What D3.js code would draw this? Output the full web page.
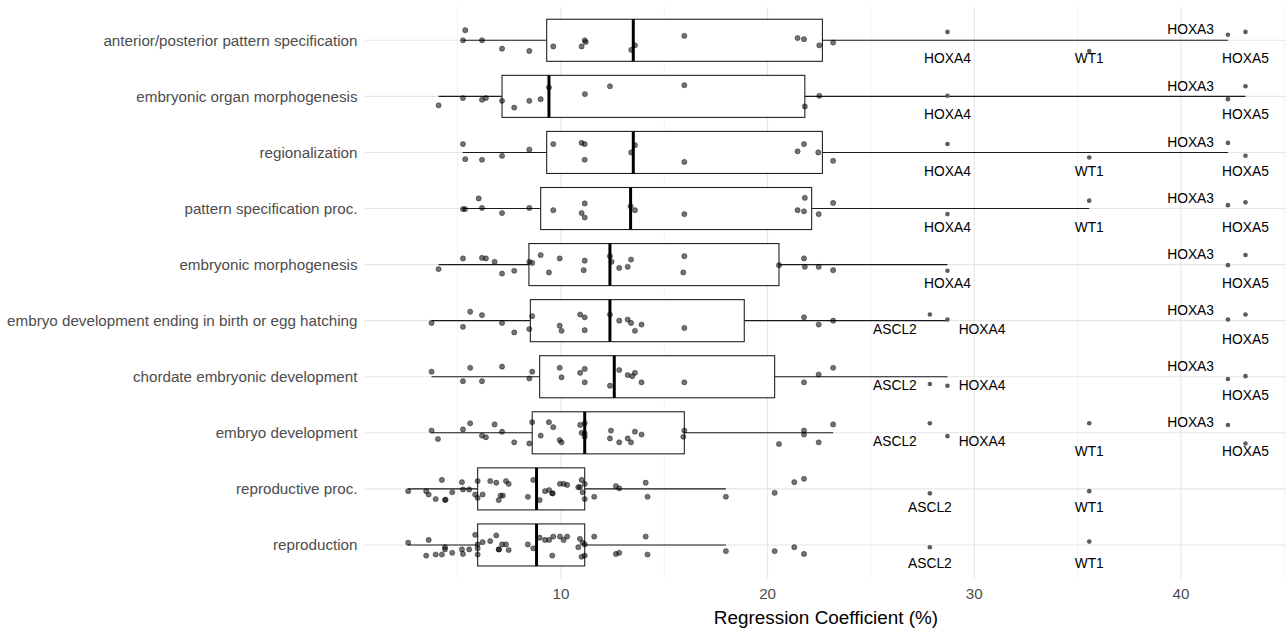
<!DOCTYPE html>
<html>
<head>
<meta charset="utf-8">
<script src="https://cdn.jsdelivr.net/npm/d3@7"></script>
<style>
  html, body { margin: 0; padding: 0; background: #fff; }
  svg { display: block; font-family: "Liberation Sans", Arial, sans-serif; }
</style>
</head>
<body>
<svg id="chart" width="1286" height="631"></svg>
<script>
// ---------------- data ----------------
const categories = [
  "anterior/posterior pattern specification",
  "embryonic organ morphogenesis",
  "regionalization",
  "pattern specification proc.",
  "embryonic morphogenesis",
  "embryo development ending in birth or egg hatching",
  "chordate embryonic development",
  "embryo development",
  "reproductive proc.",
  "reproduction"
];

// box statistics per category (%)
const whiskerLow  = [5.24, 4.08, 5.24, 5.26, 4.08, 3.74, 3.74, 3.74, 2.61, 2.61];
const q1          = [9.31, 7.15, 9.31, 9.02, 8.45, 8.52, 8.97, 8.61, 5.97, 5.97];
const medians     = [13.5, 9.42, 13.5, 13.37, 12.37, 12.37, 12.58, 11.15, 8.82, 8.82];
const q3          = [22.65, 21.8, 22.65, 22.13, 20.55, 18.87, 20.34, 15.97, 11.15, 11.15];
const whiskerHigh = [42.27, 43.12, 42.27, 35.56, 28.7, 28.7, 28.7, 23.17, 17.98, 17.98];

// jittered gene points per category: value (%) and vertical jitter (category units)
const pointValues = [
  [5.37, 5.26, 6.18, 7.15, 8.47, 9.63, 11.0, 11.15, 11.2, 13.4, 13.58, 15.97, 21.45, 21.76, 22.5, 23.17],
  [4.08, 5.26, 6.18, 6.37, 7.15, 7.74, 8.47, 9.02, 9.42, 11.16, 12.37, 15.97, 21.8, 22.5],
  [5.26, 5.37, 6.18, 7.15, 8.47, 9.63, 11.0, 11.15, 11.15, 13.4, 13.58, 15.97, 21.45, 21.76, 22.45, 23.17],
  [5.26, 5.36, 6.02, 6.18, 7.15, 8.47, 9.63, 11.0, 11.15, 11.15, 13.37, 13.58, 15.97, 21.45, 21.76, 21.8, 22.47, 23.17],
  [4.08, 5.26, 6.18, 6.37, 6.79, 7.15, 7.74, 8.47, 8.61, 9.02, 9.42, 9.94, 11.15, 11.1, 12.37, 12.45, 12.82, 13.23, 13.39, 15.97, 15.92, 20.55, 21.76, 21.8, 22.47, 23.17],
  [3.74, 5.26, 5.61, 6.18, 7.15, 7.74, 8.47, 8.61, 9.94, 10.03, 10.93, 11.15, 11.15, 12.37, 12.82, 13.23, 13.39, 13.58, 13.9, 15.97, 21.76, 22.47, 23.17],
  [3.74, 5.26, 5.61, 6.18, 7.15, 8.47, 8.61, 9.94, 10.03, 10.93, 11.15, 11.15, 12.37, 12.82, 13.23, 13.45, 13.58, 13.9, 15.97, 21.76, 22.47, 23.17],
  [3.74, 4.05, 5.26, 5.61, 6.18, 6.37, 6.79, 7.15, 7.74, 8.47, 8.61, 9.02, 9.42, 9.63, 9.94, 10.03, 10.93, 11.0, 11.15, 11.15, 11.15, 12.37, 12.42, 12.82, 13.23, 13.39, 13.58, 13.9, 15.97, 15.92, 20.55, 21.76, 21.76, 22.47, 23.17],
  [2.61, 3.48, 3.6, 3.94, 4.24, 4.39, 4.42, 4.74, 5.21, 5.26, 5.56, 5.85, 5.97, 5.97, 6.21, 6.58, 6.87, 6.99, 7.08, 7.19, 7.34, 7.47, 8.4, 8.66, 8.97, 9.23, 9.43, 9.58, 9.6, 9.95, 10.13, 10.3, 10.84, 10.92, 11.0, 11.05, 11.15, 11.15, 11.61, 12.66, 12.82, 14.1, 14.19, 17.98, 20.34, 21.29, 21.76],
  [2.61, 3.48, 3.6, 3.94, 4.24, 4.39, 4.39, 4.74, 5.21, 5.26, 5.56, 5.85, 5.97, 5.97, 5.97, 6.21, 6.58, 6.87, 6.99, 7.0, 7.15, 7.34, 7.47, 8.4, 8.66, 8.97, 9.23, 9.43, 9.58, 9.63, 9.95, 10.13, 10.3, 10.84, 10.92, 11.0, 11.05, 11.15, 11.15, 11.61, 12.66, 12.82, 14.1, 14.19, 17.98, 20.34, 21.29, 21.76]
];
const pointJitter = [
  [-0.18, 0, 0, 0.15, 0.19, 0.11, 0.11, 0, 0.03, 0.17, 0.09, -0.08, -0.04, -0.02, 0.09, 0.04],
  [0.16, 0.03, 0.06, 0.03, 0.08, 0.2, 0.08, 0.05, -0.16, -0.04, -0.18, -0.2, 0.18, -0.01],
  [-0.15, 0.12, 0.13, 0.06, -0.05, -0.15, -0.17, -0.15, 0.13, 0, -0.13, 0.17, -0.02, -0.15, 0, 0.15],
  [0.01, 0.01, -0.18, -0.01, 0.08, -0.01, 0.03, 0.08, -0.09, 0.16, -0.04, 0.03, 0.1, 0.03, 0.05, -0.19, 0.1, -0.1],
  [0.08, -0.11, -0.12, -0.11, -0.05, 0.16, 0.11, -0.05, -0.03, -0.17, 0.14, -0.11, -0.07, 0.1, -0.15, -0.05, 0.06, 0.04, -0.09, -0.15, 0.14, 0.01, -0.11, 0.04, 0.04, 0.1],
  [0.04, 0.11, -0.16, -0.1, 0.04, 0.21, 0.15, -0.08, 0.09, 0.18, -0.11, -0.06, 0.17, -0.11, 0, -0.02, 0.04, 0.18, 0.07, 0.13, -0.06, 0.07, 0],
  [-0.09, 0.08, -0.16, 0.08, -0.18, 0.03, -0.09, -0.16, 0.01, -0.07, -0.14, 0.1, 0.16, -0.12, -0.03, -0.01, -0.07, 0.1, 0.1, 0.1, -0.04, -0.16],
  [-0.04, 0.11, -0.06, -0.17, 0.05, 0.08, -0.15, -0.02, 0.17, 0.19, -0.19, 0.05, -0.19, -0.1, 0.13, 0.17, -0.14, 0, -0.17, 0.01, 0.07, 0.1, -0.04, 0.17, 0.1, 0.17, -0.02, 0.03, -0.04, 0.07, 0.2, -0.04, 0.03, 0.17, -0.15],
  [0.04, 0.04, 0.1, 0.18, -0.16, 0.2, 0.19, 0.06, -0.12, 0.01, 0.01, 0.1, -0.14, 0.16, 0.1, -0.14, -0.11, 0.2, 0.12, 0.12, -0.14, -0.09, 0.14, -0.16, 0.2, 0.04, 0.02, 0.08, 0.08, -0.09, -0.09, -0.07, -0.03, -0.03, -0.16, 0.06, -0.09, 0.18, 0.14, -0.05, -0.01, -0.11, 0.14, 0.14, 0.07, -0.12, -0.18],
  [-0.04, 0.19, -0.09, 0.17, 0.17, 0.04, 0.08, 0.14, 0.08, 0.16, 0.08, -0.18, -0.01, 0.06, 0.17, -0.05, -0.07, -0.17, 0.08, 0.08, -0.01, -0.01, 0.09, -0.01, 0.06, -0.13, -0.09, -0.09, 0.19, -0.15, -0.15, -0.09, -0.15, 0.04, -0.11, 0.21, -0.04, -0.01, 0.19, -0.15, 0.16, 0.14, -0.15, 0.17, 0.11, 0.11, 0.04, 0.16]
];

// labelled genes: coefficient (%) and which category rows they appear in
const geneNames = ["ASCL2", "HOXA4", "WT1", "HOXA3", "HOXA5"];
const geneCoef  = [27.85, 28.7, 35.56, 42.27, 43.12];
const labeledGenes = [
  ["HOXA4", "WT1", "HOXA3", "HOXA5"],
  ["HOXA4", "HOXA3", "HOXA5"],
  ["HOXA4", "WT1", "HOXA3", "HOXA5"],
  ["HOXA4", "WT1", "HOXA3", "HOXA5"],
  ["HOXA4", "HOXA3", "HOXA5"],
  ["ASCL2", "HOXA4", "HOXA3", "HOXA5"],
  ["ASCL2", "HOXA4", "HOXA3", "HOXA5"],
  ["ASCL2", "HOXA4", "WT1", "HOXA3", "HOXA5"],
  ["ASCL2", "WT1"],
  ["ASCL2", "WT1"]
];
const labeledJitter = [
  [-0.15, 0.19, -0.1, -0.15],
  [-0.01, 0.05, -0.18],
  [-0.15, 0.09, -0.17, 0.06],
  [0.1, -0.14, -0.06, -0.11],
  [0.11, 0.01, -0.17],
  [-0.11, -0.02, -0.02, -0.11],
  [0.13, 0.16, 0.04, -0.01],
  [-0.17, 0.06, -0.17, -0.14, 0.19],
  [0.08, 0.04],
  [0.04, -0.06]
];

const xTicks = [10, 20, 30, 40];
const xMinorTicks = [5, 15, 25, 35, 45];
const xTitle = "Regression Coefficient (%)";

// ---------------- drawing ----------------
const W = 1286, H = 631;
const panel = { left: 365, right: 1286, top: 6.65, bottom: 578.6 };
const svg = d3.select("#chart");

const x = d3.scaleLinear().domain([0.52, 45.08]).range([panel.left, panel.right]);
const y = d3.scalePoint().domain(categories).range([panel.top, panel.bottom]).padding(0.6);
const step = y.step();

const g = svg.append("g");

// grid
g.append("g").selectAll("line").data(xMinorTicks.filter(t => x(t) <= panel.right)).join("line")
  .attr("x1", d => x(d)).attr("x2", d => x(d))
  .attr("y1", panel.top).attr("y2", panel.bottom)
  .attr("stroke", "#ececec").attr("stroke-width", 0.7);
g.append("g").selectAll("line").data(xTicks).join("line")
  .attr("x1", d => x(d)).attr("x2", d => x(d))
  .attr("y1", panel.top).attr("y2", panel.bottom)
  .attr("stroke", "#e6e6e6").attr("stroke-width", 1.1);
g.append("g").selectAll("line").data(categories).join("line")
  .attr("x1", panel.left).attr("x2", panel.right)
  .attr("y1", d => y(d)).attr("y2", d => y(d))
  .attr("stroke", "#e6e6e6").attr("stroke-width", 1.1);

// boxplots
const boxH = step * 0.75;
const boxes = g.append("g").selectAll("g").data(categories).join("g");
boxes.append("line")
  .attr("x1", (d, i) => x(whiskerLow[i])).attr("x2", (d, i) => x(q1[i]))
  .attr("y1", d => y(d)).attr("y2", d => y(d))
  .attr("stroke", "#1a1a1a").attr("stroke-width", 1.1);
boxes.append("line")
  .attr("x1", (d, i) => x(q3[i])).attr("x2", (d, i) => x(whiskerHigh[i]))
  .attr("y1", d => y(d)).attr("y2", d => y(d))
  .attr("stroke", "#1a1a1a").attr("stroke-width", 1.1);
boxes.append("rect")
  .attr("x", (d, i) => x(q1[i])).attr("width", (d, i) => x(q3[i]) - x(q1[i]))
  .attr("y", d => y(d) - boxH / 2).attr("height", boxH)
  .attr("fill", "#fff").attr("stroke", "#222").attr("stroke-width", 1.1);
boxes.append("line")
  .attr("x1", (d, i) => x(medians[i])).attr("x2", (d, i) => x(medians[i]))
  .attr("y1", d => y(d) - boxH / 2).attr("y2", d => y(d) + boxH / 2)
  .attr("stroke", "#000").attr("stroke-width", 3);

// jittered points
const pts = [];
categories.forEach((c, i) => {
  pointValues[i].forEach((v, j) => pts.push({ c, v, jit: pointJitter[i][j] }));
});
g.append("g").selectAll("circle").data(pts).join("circle")
  .attr("cx", d => x(d.v)).attr("cy", d => y(d.c) + d.jit * step)
  .attr("r", 2.6)
  .attr("fill", "#000").attr("fill-opacity", 0.55)
  .attr("stroke", "#000").attr("stroke-opacity", 0.6).attr("stroke-width", 0.6);

// labelled gene points + labels
const labs = [];
categories.forEach((c, i) => {
  const row = labeledGenes[i].map((gname, j) => ({
    c, gene: gname, v: geneCoef[geneNames.indexOf(gname)], jit: labeledJitter[i][j]
  })).sort((a, b) => a.v - b.v);
  row.forEach((d, k) => {
    const prev = row[k - 1], next = row[k + 1];
    d.side = "below";
    if (next && next.v - d.v < 1.5) d.side = d.v > 40 ? "upleft" : "left";
    else if (prev && d.v - prev.v < 1.5) d.side = prev.v > 40 ? "below" : "right";
    labs.push(d);
  });
});
g.append("g").selectAll("circle").data(labs).join("circle")
  .attr("cx", d => x(d.v)).attr("cy", d => y(d.c) + d.jit * step)
  .attr("r", 2.3).attr("fill", "#5c5c5c");

const fontLab = 13.8;
const labelText = g.append("g").selectAll("text").data(labs).join("text")
  .attr("font-size", fontLab).attr("fill", "#000")
  .attr("text-anchor", "middle").attr("dominant-baseline", "central")
  .text(d => d.gene);
labelText.each(function (d) {
  const w = this.getComputedTextLength();
  let cx = x(d.v), cy = y(d.c);
  if (d.side === "below") { cy += 18.6; }
  else if (d.side === "left") { cx -= 35; cy += 8.6; }
  else if (d.side === "right") { cx += 34.6; cy += 8.6; }
  else if (d.side === "upleft") { cx -= 37.3; cy -= 10.3; }
  cx = Math.min(cx, panel.right - 8.5 - w / 2);
  d3.select(this).attr("x", cx).attr("y", cy);
});

// y axis labels
svg.append("g").selectAll("text").data(categories).join("text")
  .attr("x", 357.5).attr("y", d => y(d))
  .attr("text-anchor", "end").attr("dominant-baseline", "central")
  .attr("font-size", 15.2).attr("fill", "#4d4d4d")
  .text(d => d);

// x axis labels
svg.append("g").selectAll("text").data(xTicks).join("text")
  .attr("x", d => x(d)).attr("y", 593)
  .attr("text-anchor", "middle").attr("dominant-baseline", "central")
  .attr("font-size", 15.2).attr("fill", "#4d4d4d")
  .text(d => d);

svg.append("text")
  .attr("x", 826).attr("y", 617)
  .attr("text-anchor", "middle").attr("dominant-baseline", "central")
  .attr("font-size", 18.9).attr("fill", "#000")
  .text(xTitle);
</script>
</body>
</html>
